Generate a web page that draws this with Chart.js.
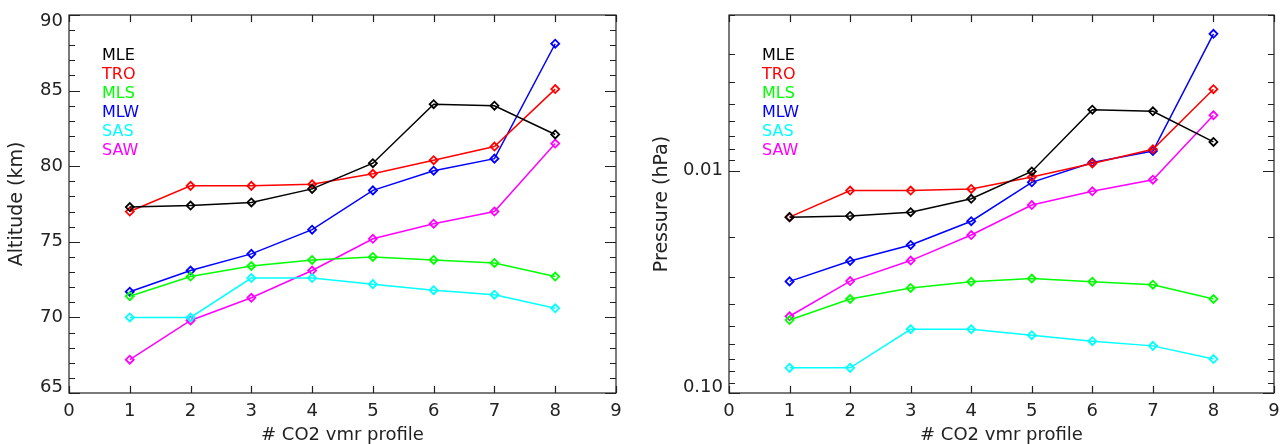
<!DOCTYPE html>
<html>
<head>
<meta charset="utf-8">
<script src="https://cdn.jsdelivr.net/npm/chart.js@4.4.1/dist/chart.umd.min.js"></script>
<style>
    html, body { margin: 0; padding: 0; background: #fff; }
    #wrap { position: relative; width: 1281px; height: 444px; overflow: hidden; }
    #alt-box { position: absolute; left: 0; top: 0; width: 640px; height: 444px; }
    #pres-box { position: absolute; left: 640px; top: 0; width: 641px; height: 444px; }
</style>
</head>
<body>
<div id="wrap">
    <div id="alt-box"><canvas id="alt-chart"></canvas></div>
    <div id="pres-box"><canvas id="pres-chart"></canvas></div>
</div>
<script>
// # CO2 vmr profile
const profileNum = [1, 2, 3, 4, 5, 6, 7, 8];
const xTickValues = [0, 1, 2, 3, 4, 5, 6, 7, 8, 9];

const seriesNames = ['MLE', 'TRO', 'MLS', 'MLW', 'SAS', 'SAW'];
const seriesColors = ['#000000', '#ff0000', '#00ff00', '#0000ff', '#00ffff', '#ff00ff'];

// left panel, altitude (km)
const altMLE = [77.3, 77.4, 77.6, 78.5, 80.2, 84.1, 84.0, 82.1];
const altTRO = [77.0, 78.7, 78.7, 78.8, 79.5, 80.4, 81.3, 85.1];
const altMLS = [71.4, 72.7, 73.4, 73.8, 74.0, 73.8, 73.6, 72.7];
const altMLW = [71.7, 73.1, 74.2, 75.8, 78.4, 79.7, 80.5, 88.1];
const altSAS = [70.0, 70.0, 72.6, 72.6, 72.2, 71.8, 71.5, 70.6];
const altSAW = [67.2, 69.8, 71.3, 73.1, 75.2, 76.2, 77.0, 81.5];
const altTicks = [65, 70, 75, 80, 85, 90];
const altMinorTicks = [66, 67, 68, 69, 71, 72, 73, 74, 76, 77, 78, 79, 81, 82, 83, 84, 86, 87, 88, 89];

// right panel, pressure (hPa)
const presMLE = [0.0162, 0.0160, 0.0154, 0.0134, 0.0101, 0.00533, 0.00542, 0.00744];
const presTRO = [0.0162, 0.0123, 0.0123, 0.0121, 0.0107, 0.0093, 0.00803, 0.00431];
const presMLS = [0.0470, 0.0378, 0.0337, 0.0316, 0.0306, 0.0316, 0.0326, 0.0378];
const presMLW = [0.0315, 0.0255, 0.0216, 0.0169, 0.0113, 0.0092, 0.00817, 0.00243];
const presSAS = [0.0771, 0.0771, 0.0517, 0.0517, 0.0550, 0.0585, 0.0614, 0.0704];
const presSAW = [0.0452, 0.0314, 0.0254, 0.0195, 0.0143, 0.0124, 0.0110, 0.00565];
const presTicks = [0.01, 0.1];
const presTickLabels = ['0.01', '0.10'];
const presMinorTicks = [0.002, 0.003, 0.004, 0.005, 0.006, 0.007, 0.008, 0.009,
    0.02, 0.03, 0.04, 0.05, 0.06, 0.07, 0.08, 0.09];

const FONT = '"DejaVu Sans", sans-serif';
const INK = '#222';

function makeDatasets(arrays) {
    return arrays.map((arr, i) => ({
        label: seriesNames[i],
        data: profileNum.map((x, j) => ({ x: x, y: arr[j] })),
        borderColor: seriesColors[i],
        backgroundColor: 'transparent',
        borderWidth: 1.5,
        pointStyle: 'rectRot',
        pointRadius: 4,
        pointBorderWidth: 1.8,
        pointBorderColor: seriesColors[i],
        pointBackgroundColor: 'transparent',
        tension: 0
    }));
}

// IDL style box: inward ticks on all four sides, labels, titles and text legend
const idlFrame = {
    id: 'idlFrame',
    afterDraw(chart, args, opts) {
        const ctx = chart.ctx;
        const a = chart.chartArea;
        const xs = chart.scales.x;
        const ys = chart.scales.y;
        ctx.save();
        ctx.strokeStyle = INK;
        ctx.lineWidth = 1.2;
        ctx.strokeRect(a.left, a.top, a.right - a.left, a.bottom - a.top);

        ctx.beginPath();
        xTickValues.forEach(v => {
            const px = Math.round(xs.getPixelForValue(v)) + 0.5;
            ctx.moveTo(px, a.bottom); ctx.lineTo(px, a.bottom - 7);
            ctx.moveTo(px, a.top); ctx.lineTo(px, a.top + 7);
        });
        opts.yTicks.forEach(v => {
            const py = Math.round(ys.getPixelForValue(v)) + 0.5;
            ctx.moveTo(a.left, py); ctx.lineTo(a.left + 11, py);
            ctx.moveTo(a.right, py); ctx.lineTo(a.right - 11, py);
        });
        opts.yMinor.forEach(v => {
            const py = Math.round(ys.getPixelForValue(v)) + 0.5;
            ctx.moveTo(a.left, py); ctx.lineTo(a.left + 6, py);
            ctx.moveTo(a.right, py); ctx.lineTo(a.right - 6, py);
        });
        ctx.stroke();

        ctx.fillStyle = INK;
        ctx.font = '18px ' + FONT;
        ctx.textAlign = 'center';
        ctx.textBaseline = 'middle';
        xTickValues.forEach(v => {
            ctx.fillText(String(v), xs.getPixelForValue(v), a.bottom + 18);
        });
        ctx.textAlign = 'right';
        opts.yTicks.forEach((v, i) => {
            let py = ys.getPixelForValue(v);
            py = Math.min(Math.max(py, a.top + 6), a.bottom - 6);
            ctx.fillText(opts.yLabels[i], a.left - 6, py);
        });

        ctx.textAlign = 'center';
        ctx.textBaseline = 'alphabetic';
        ctx.fillText(opts.xTitle, (a.left + a.right) / 2, 440);
        ctx.save();
        ctx.translate(opts.yTitleX, (a.top + a.bottom) / 2);
        ctx.rotate(-Math.PI / 2);
        ctx.textBaseline = 'middle';
        ctx.font = '19px ' + FONT;
        ctx.fillText(opts.yTitle, 0, 0);
        ctx.restore();

        ctx.font = '16px ' + FONT;
        ctx.textAlign = 'left';
        ctx.textBaseline = 'middle';
        seriesNames.forEach((name, i) => {
            ctx.fillStyle = seriesColors[i];
            ctx.fillText(name, a.left + 33, a.top + 41 + i * 19);
        });
        ctx.restore();
    }
};

function makeChart(id, datasets, yScale, padding, frameOpts) {
    return new Chart(document.getElementById(id), {
        type: 'line',
        data: { datasets: datasets },
        plugins: [idlFrame],
        options: {
            responsive: true,
            maintainAspectRatio: false,
            animation: false,
            layout: { padding: padding },
            plugins: {
                legend: { display: false },
                tooltip: { enabled: false },
                idlFrame: frameOpts
            },
            scales: {
                x: { type: 'linear', min: 0, max: 9, display: false },
                y: Object.assign({ display: false }, yScale)
            }
        }
    });
}

makeChart('alt-chart',
    makeDatasets([altMLE, altTRO, altMLS, altMLW, altSAS, altSAW]),
    { type: 'linear', min: 65, max: 90 },
    { left: 69, right: 24, top: 15, bottom: 51 },
    {
        yTicks: altTicks,
        yLabels: altTicks.map(String),
        yMinor: altMinorTicks,
        xTitle: '# CO2 vmr profile',
        yTitle: 'Altitude (km)',
        yTitleX: 17
    });

makeChart('pres-chart',
    makeDatasets([presMLE, presTRO, presMLS, presMLW, presSAS, presSAW]),
    { type: 'logarithmic', min: 0.002, max: 0.1, reverse: true },
    { left: 89, right: 7, top: 15, bottom: 51 },
    {
        yTicks: presTicks,
        yLabels: presTickLabels,
        yMinor: presMinorTicks,
        xTitle: '# CO2 vmr profile',
        yTitle: 'Pressure (hPa)',
        yTitleX: 22
    });
</script>
</body>
</html>
